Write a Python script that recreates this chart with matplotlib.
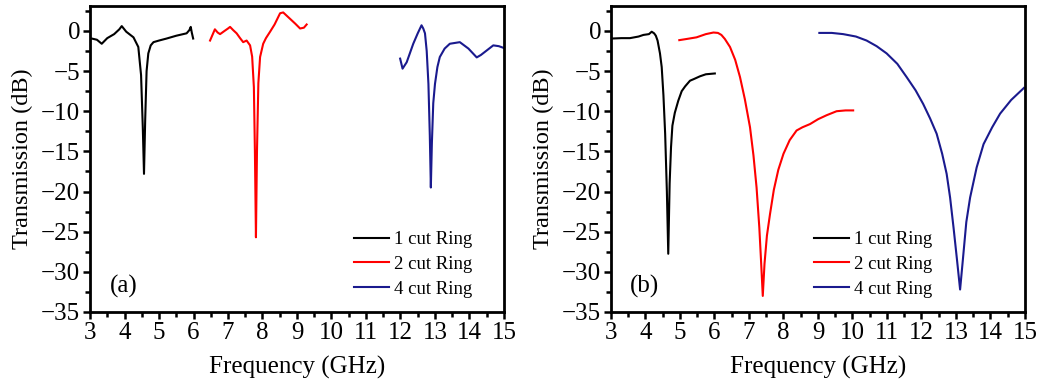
import matplotlib
matplotlib.use("Agg")
import matplotlib.pyplot as plt
from matplotlib.ticker import MultipleLocator

# panel (a): measured
a_f1 = [3.0, 3.05, 3.2, 3.34, 3.5, 3.7, 3.85, 3.92, 4.05, 4.26, 4.4, 4.48, 4.53, 4.565, 4.6, 4.64, 4.69, 4.76, 4.84, 5.0, 5.22, 5.5, 5.8, 5.88, 5.92, 5.95, 5.99]
a_t1 = [-1.0, -0.95, -1.1, -1.6, -0.9, -0.4, 0.2, 0.6, -0.1, -0.8, -2.0, -5.5, -12.0, -17.8, -11.0, -5.0, -2.8, -1.8, -1.4, -1.2, -0.95, -0.6, -0.3, 0.1, 0.5, -0.2, -0.95]
a_f2 = [6.48, 6.55, 6.62, 6.7, 6.77, 6.9, 7.0, 7.06, 7.15, 7.25, 7.35, 7.44, 7.54, 7.64, 7.7, 7.75, 7.78, 7.81, 7.84, 7.88, 7.93, 8.02, 8.1, 8.22, 8.35, 8.51, 8.6, 8.7, 8.8, 8.95, 9.09, 9.2, 9.28]
a_t2 = [-1.2, -0.5, 0.2, -0.2, -0.4, 0.0, 0.3, 0.5, 0.1, -0.3, -0.9, -1.4, -1.2, -1.8, -3.2, -7.0, -15.0, -25.7, -15.0, -6.5, -3.25, -1.6, -0.9, -0.1, 0.8, 2.2, 2.3, 1.9, 1.5, 0.9, 0.3, 0.4, 0.8]
a_f4 = [11.99, 12.06, 12.18, 12.37, 12.5, 12.61, 12.66, 12.71, 12.76, 12.81, 12.85, 12.88, 12.91, 12.95, 13.0, 13.07, 13.14, 13.28, 13.43, 13.72, 13.97, 14.21, 14.33, 14.45, 14.69, 14.85, 14.98]
a_t4 = [-3.45, -4.7, -3.9, -1.6, -0.3, 0.7, 0.3, -0.3, -2.5, -6.6, -13.0, -19.5, -14.0, -9.0, -6.6, -4.5, -3.25, -2.2, -1.6, -1.4, -2.2, -3.3, -3.0, -2.6, -1.8, -1.9, -2.1]

# panel (b): simulated
b_f1 = [3.02, 3.3, 3.55, 3.8, 3.94, 4.1, 4.18, 4.25, 4.3, 4.35, 4.42, 4.47, 4.52, 4.57, 4.62, 4.66, 4.7, 4.74, 4.78, 4.85, 4.95, 5.05, 5.15, 5.29, 5.4, 5.58, 5.75, 6.01]
b_t1 = [-0.95, -0.9, -0.9, -0.7, -0.5, -0.4, -0.1, -0.3, -0.6, -1.2, -2.8, -4.5, -8.0, -12.8, -20.0, -27.75, -19.0, -14.5, -11.8, -10.2, -8.7, -7.5, -6.9, -6.2, -6.0, -5.65, -5.4, -5.3]
b_f2 = [4.98, 5.2, 5.48, 5.75, 5.97, 6.1, 6.2, 6.3, 6.45, 6.6, 6.74, 6.88, 7.03, 7.13, 7.22, 7.3, 7.36, 7.4, 7.45, 7.52, 7.61, 7.72, 7.85, 8.0, 8.18, 8.38, 8.55, 8.77, 9.0, 9.25, 9.54, 9.8, 10.02]
b_t2 = [-1.15, -1.0, -0.8, -0.4, -0.2, -0.25, -0.5, -1.0, -2.0, -3.6, -5.75, -8.5, -12.0, -15.5, -19.5, -24.5, -29.5, -33.0, -29.0, -25.5, -22.8, -19.8, -17.3, -15.3, -13.6, -12.4, -12.0, -11.6, -11.0, -10.5, -10.0, -9.9, -9.9]
b_f4 = [9.04, 9.4, 9.73, 10.1, 10.41, 10.7, 10.99, 11.3, 11.57, 11.83, 12.05, 12.25, 12.44, 12.6, 12.73, 12.83, 12.93, 13.03, 13.12, 13.2, 13.3, 13.41, 13.6, 13.8, 14.05, 14.28, 14.6, 14.97]
b_t4 = [-0.25, -0.25, -0.4, -0.7, -1.2, -1.9, -2.8, -4.1, -5.75, -7.4, -9.1, -10.9, -12.8, -15.3, -17.8, -20.75, -24.5, -28.5, -32.2, -28.5, -23.8, -20.75, -17.0, -14.1, -12.0, -10.3, -8.6, -7.1]

labels = ["1 cut Ring", "2 cut Ring", "4 cut Ring"]
colors = ["black", "#ff0000", "#1a1a8e"]

plt.rcParams["font.family"] = ["Liberation Serif", "DejaVu Serif"]

fig = plt.figure(figsize=(10.43, 3.88), dpi=100)
ax_a = fig.add_axes([0.0863, 0.1959, 0.3969, 0.7886])
ax_b = fig.add_axes([0.5858, 0.1959, 0.3969, 0.7886])

panels = [
    (ax_a, [(a_f1, a_t1), (a_f2, a_t2), (a_f4, a_t4)], "(a)", 0.628),
    (ax_b, [(b_f1, b_t1), (b_f2, b_t2), (b_f4, b_t4)], "(b)", 0.481),
]

for ax, series, tag, leg_x in panels:
    for (f, t), lab, c in zip(series, labels, colors):
        ax.plot(f, t, color=c, lw=1.5, label=lab)
    ax.set_xlim(3, 15)
    ax.set_ylim(-35, 3.1)
    ax.xaxis.set_major_locator(MultipleLocator(1))
    ax.xaxis.set_minor_locator(MultipleLocator(0.5))
    ax.yaxis.set_major_locator(MultipleLocator(5))
    ax.yaxis.set_minor_locator(MultipleLocator(2.5))
    ax.tick_params(which="both", direction="out", width=1.8, labelsize=18, pad=2)
    ax.tick_params(which="major", length=5)
    ax.tick_params(which="minor", length=3.5)
    for s in ax.spines.values():
        s.set_linewidth(2)
    ax.set_xlabel("Frequency (GHz)", fontsize=18, labelpad=9)
    ax.set_ylabel("Transmission (dB)", fontsize=17.5, labelpad=6)
    ax.text(0.082, 0.085, tag, transform=ax.transAxes, fontsize=18,
            ha="center", va="center")
    ax.legend(loc="lower left", bbox_to_anchor=(leg_x, 0.035), frameon=False,
              fontsize=13.5, handlelength=1.9, handletextpad=0.25,
              labelspacing=0.4, borderaxespad=0, borderpad=0.2)

fig.savefig("out.png", dpi=100)
